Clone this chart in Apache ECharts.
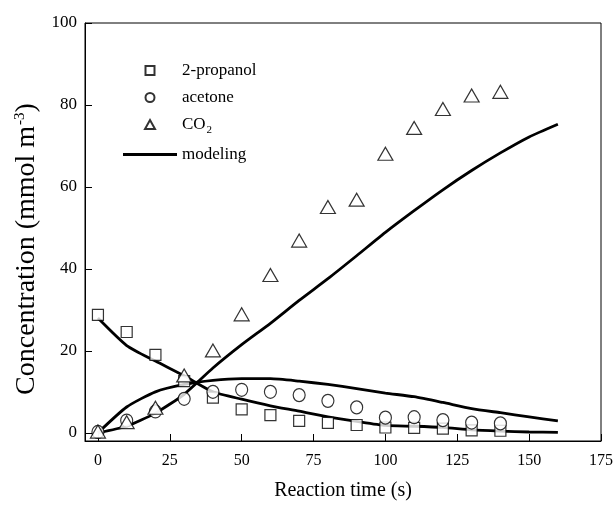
<!DOCTYPE html>
<html>
<head>
<meta charset="utf-8">
<script src="https://cdn.jsdelivr.net/npm/echarts@6/dist/echarts.min.js"></script>
<style>
  html, body { margin: 0; padding: 0; background: #fff; }
  #main { width: 616px; height: 506px; }
</style>
</head>
<body>
<div id="main"></div>
<script>
// measured points
const times = [0, 10, 20, 30, 40, 50, 60, 70, 80, 90, 100, 110, 120, 130, 140];
const propanol = [28.8, 24.6, 19.0, 12.6, 8.6, 5.7, 4.3, 2.9, 2.4, 1.9, 1.3, 1.2, 1.0, 0.6, 0.5];
const acetone = [0.2, 3.0, 5.2, 8.3, 10.0, 10.5, 10.0, 9.2, 7.8, 6.2, 3.7, 3.8, 3.1, 2.5, 2.3];
const co2 = [0.3, 2.6, 6.1, 14.0, 20.1, 28.9, 38.5, 46.9, 55.1, 56.9, 68.1, 74.4, 79.0, 82.3, 83.2];

// model curves
const modelTimes = [0, 10, 20, 30, 40, 50, 60, 70, 80, 90, 100, 110, 120, 130, 140, 150, 160];
const modelPropanol = [28.0, 21.3, 17.5, 13.9, 10.0, 8.2, 6.6, 5.3, 3.9, 2.8, 1.8, 1.6, 1.3, 0.7, 0.4, 0.2, 0.1];
const modelAcetone = [0, 6.3, 10.0, 11.8, 12.8, 13.2, 13.2, 12.6, 11.8, 10.8, 9.7, 8.8, 7.4, 5.9, 4.9, 3.9, 2.9];
const modelCO2 = [0, 1.6, 4.8, 9.4, 15.8, 21.5, 26.7, 32.3, 37.6, 43.2, 48.9, 54.2, 59.3, 64.0, 68.3, 72.2, 75.3];

const xTicks = [0, 25, 50, 75, 100, 125, 150, 175];
const yTicks = [0, 20, 40, 60, 80, 100];

const font = 'Liberation Serif';
const pair = (xs, ys) => xs.map((x, i) => [x, ys[i]]);

const dom = document.getElementById('main');
const chart = echarts.init(dom);

const markerStyle = { color: '#fff', borderColor: '#000', borderWidth: 1.2 };
const modelLine = (data) => ({
  name: 'modeling',
  type: 'line',
  data: data,
  symbol: 'none',
  smooth: 0.2,
  z: 2,
  itemStyle: { color: '#000' },
  lineStyle: { color: '#000', width: 2.8 }
});

// legend icons that keep their aspect inside the wide legend box
const squareIcon = 'path://M0,0L10,0L10,10L0,10Z';
const circleIcon = 'path://M5,0A5,5,0,1,1,5,10A5,5,0,1,1,5,0Z';
const triangleIcon = 'path://M5,0L10,9L0,9Z';
const lineIcon = 'path://M0,0L54,0L54,2.8L0,2.8Z';

const option = {
  backgroundColor: '#fff',
  animation: false,
  textStyle: { fontFamily: font, color: '#000' },
  grid: {
    left: 85, right: 14, top: 23, bottom: 64,
    show: true, borderColor: '#000', borderWidth: 1
  },
  legend: {
    orient: 'vertical',
    left: 118, top: 57,
    itemWidth: 54, itemHeight: 9, itemGap: 10,
    symbolKeepAspect: true,
    data: [
      { name: '2-propanol', icon: squareIcon },
      { name: 'acetone', icon: circleIcon },
      { name: 'CO2', icon: triangleIcon },
      { name: 'modeling', icon: lineIcon, itemStyle: { color: '#000', borderWidth: 0 } }
    ],
    formatter: function (name) {
      if (name === 'CO2') return '{t|CO}{s|2}';
      return '{t|' + name + '}';
    },
    textStyle: {
      fontFamily: font, color: '#000',
      rich: {
        t: { fontFamily: font, fontSize: 17, color: '#000' },
        s: { fontFamily: font, fontSize: 11, color: '#000', verticalAlign: 'bottom', padding: [12, 0, 0, 1] }
      }
    }
  },
  xAxis: {
    type: 'value',
    min: -4.5, max: 175,
    name: 'Reaction time (s)',
    nameLocation: 'middle',
    nameGap: 40,
    nameTextStyle: { fontFamily: font, fontSize: 20, color: '#000' },
    axisLine: { onZero: false, lineStyle: { color: '#000', width: 1 } },
    axisTick: { inside: true, length: 7, customValues: xTicks, lineStyle: { color: '#000' } },
    axisLabel: { customValues: xTicks, margin: 12, fontFamily: font, fontSize: 16, color: '#000' },
    splitLine: { show: false }
  },
  yAxis: {
    type: 'value',
    min: -2, max: 100,
    name: '{t|Concentration (mmol m}{s|-3}{t|)}',
    nameLocation: 'middle',
    nameGap: 42,
    nameRotate: 90,
    nameTextStyle: {
      padding: [0, 34, 0, 0],
      rich: {
        t: { fontFamily: font, fontSize: 28, color: '#000' },
        s: { fontFamily: font, fontSize: 15, color: '#000', verticalAlign: 'top', padding: [0, 0, 13, 1] }
      }
    },
    axisLine: { onZero: false, lineStyle: { color: '#000', width: 1 } },
    axisTick: { inside: true, length: 7, customValues: yTicks, lineStyle: { color: '#000' } },
    axisLabel: { customValues: yTicks, margin: 8, fontFamily: font, fontSize: 17, color: '#000' },
    splitLine: { show: false }
  },
  series: [
    modelLine(pair(modelTimes, modelPropanol)),
    modelLine(pair(modelTimes, modelAcetone)),
    modelLine(pair(modelTimes, modelCO2)),
    {
      name: '2-propanol', type: 'scatter', symbol: 'rect', symbolSize: 11, z: 5,
      itemStyle: markerStyle, data: pair(times, propanol)
    },
    {
      name: 'acetone', type: 'scatter', symbol: 'circle', symbolSize: [12, 13], z: 5,
      itemStyle: markerStyle, data: pair(times, acetone)
    },
    {
      name: 'CO2', type: 'scatter', symbol: 'triangle', symbolSize: [15, 13], z: 5,
      itemStyle: markerStyle, data: pair(times, co2)
    }
  ]
};

chart.setOption(option, true);
</script>
</body>
</html>
